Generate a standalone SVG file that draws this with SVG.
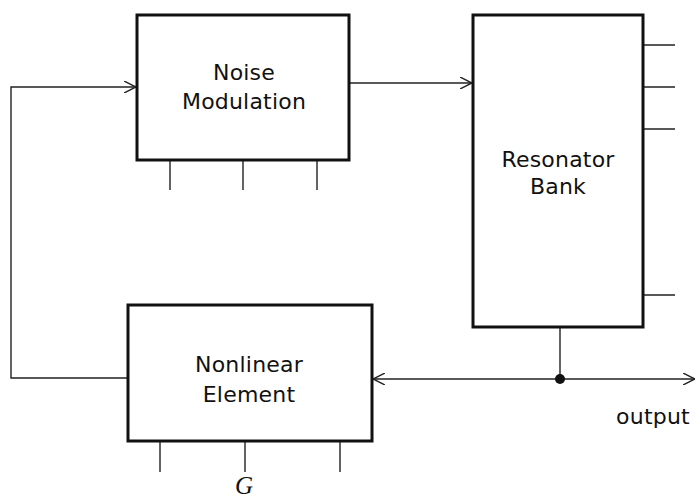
<svg xmlns="http://www.w3.org/2000/svg" width="696" height="501" viewBox="0 0 696 501">
<style>
.box{fill:#fff;stroke:#111;stroke-width:3}
.ln{fill:none;stroke:#222;stroke-width:1.4}
.lbl{font-family:"DejaVu Sans","Liberation Sans",sans-serif;font-size:22px;fill:#111;text-anchor:middle;letter-spacing:0.2px}
</style>
<defs>
<marker id="ah" viewBox="0 0 12 12" refX="12" refY="6" markerWidth="12" markerHeight="12" markerUnits="userSpaceOnUse" orient="auto-start-reverse">
<path d="M0,0 L12,6 L0,12" fill="none" stroke="#222" stroke-width="1.4"/>
</marker>
</defs>
<g id="connectors">
<path class="ln" d="M128,378 H11 V87 H136" marker-end="url(#ah)"/>
<path class="ln" d="M349,83 H472" marker-end="url(#ah)"/>
<path class="ln" d="M560,327 V379"/>
<path class="ln" d="M373,379 H560" marker-start="url(#ah)"/>
<path class="ln" d="M560,379 H695" marker-end="url(#ah)"/>
<circle cx="560" cy="379" r="5" fill="#111"/>
<path class="ln" d="M170,160 V190 M243,160 V190 M317,160 V190"/>
<path class="ln" d="M643,45 H675 M643,87 H675 M643,129 H675 M643,295 H675"/>
<path class="ln" d="M160,441 V472 M245,441 V472 M340,441 V472"/>
</g>
<g id="noise">
<rect class="box" x="137" y="15" width="212" height="145"/>
<text class="lbl" x="244" y="80">Noise</text>
<text class="lbl" x="244" y="109">Modulation</text>
</g>
<g id="resonator">
<rect class="box" x="473" y="15" width="170" height="312"/>
<text class="lbl" x="558" y="167">Resonator</text>
<text class="lbl" x="558" y="194">Bank</text>
</g>
<g id="nonlinear">
<rect class="box" x="128" y="305" width="244" height="136"/>
<text class="lbl" x="249" y="372">Nonlinear</text>
<text class="lbl" x="249" y="402">Element</text>
</g>
<text class="lbl" x="653" y="424">output</text>
<text x="244" y="494" font-family="Liberation Serif,serif" font-style="italic" font-size="25" fill="#111" text-anchor="middle">G</text>
</svg>
